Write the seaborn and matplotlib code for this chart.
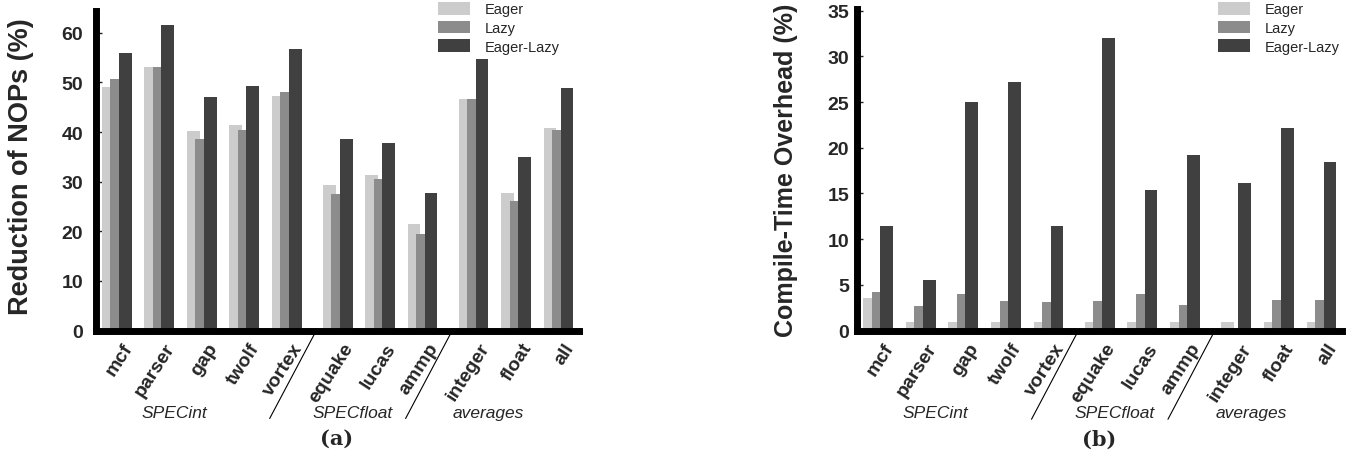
import numpy as np
import pandas as pd
import seaborn as sns
import matplotlib.pyplot as plt
import matplotlib.transforms as mtransforms
from matplotlib.patches import Patch

benchmarks = ["mcf", "parser", "gap", "twolf", "vortex",
              "equake", "lucas", "ammp", "integer", "float", "all"]
suites = ["SPECint", "SPECfloat", "averages"]
suite_sizes = [5, 3, 3]
methods = ["Eager", "Lazy", "Eager-Lazy"]

# (a) reduction of NOPs (%)
nops_eager = [49.0, 53.2, 40.2, 41.4, 47.2, 29.4, 31.4, 21.5, 46.6, 27.7, 40.8]
nops_lazy = [50.7, 53.2, 38.6, 40.5, 48.0, 27.5, 30.5, 19.5, 46.7, 26.1, 40.5]
nops_eagerlazy = [55.9, 61.6, 47.0, 49.2, 56.8, 38.7, 37.7, 27.8, 54.7, 35.0, 48.9]

# (b) compile-time overhead (%)
ovh_eager = [3.6, 1.0, 1.0, 1.0, 1.0, 1.0, 1.0, 1.0, 1.0, 1.0, 1.0]
ovh_lazy = [4.2, 2.7, 4.0, 3.2, 3.1, 3.3, 4.0, 2.8, 0.0, 3.35, 3.4]
ovh_eagerlazy = [11.5, 5.5, 25.0, 27.2, 11.4, 32.0, 15.4, 19.2, 16.1, 22.2, 18.4]

colors = ["#cccccc", "#8c8c8c", "#404040"]

# x positions: suites separated by a small extra gap
GAP = 0.2
positions = []
x = 0.0
for k, n in enumerate(suite_sizes):
    for i in range(n):
        positions.append(x)
        x += 1
    x += GAP
positions = np.array(positions)
LABEL_SHIFT = 0.33  # slanted labels sit right of the group centre


def long_frame(e, l, el):
    rows = []
    for vals, m in zip([e, l, el], methods):
        for b, p, v in zip(benchmarks, positions, vals):
            rows.append({"bench": b, "pos": p, "method": m, "value": v})
    return pd.DataFrame(rows)


sns.set_style("ticks")
plt.rcParams["font.family"] = ["Liberation Sans", "DejaVu Sans"]

fig = plt.figure(figsize=(13.54, 4.56), dpi=100)
W, H = 1354, 456
ax_a = fig.add_axes([95.5 / W, 1 - 331.5 / H, (578.5 - 95.5) / W, 320 / H])
ax_b = fig.add_axes([856.7 / W, 1 - 331.7 / H, (1341.5 - 856.7) / W, 322 / H])

panels = [
    (ax_a, long_frame(nops_eager, nops_lazy, nops_eagerlazy), 64.5, 10,
     "Reduction of NOPs (%)", 19.5, 9, -0.128, 0.515, "(a)", 438),
    (ax_b, long_frame(ovh_eager, ovh_lazy, ovh_eagerlazy), 35.2, 5,
     "Compile-Time Overhead (%)", 18, 5.5, -0.122, 0.5, "(b)", 1218),
]

for ax, df, ymax, ystep, ylab, ylab_size, ypad, ylab_x, ylab_y, tag, leg_x in panels:
    sns.barplot(data=df, x="pos", y="value", hue="method", hue_order=methods,
                palette=colors, native_scale=True, width=0.6, dodge=True,
                saturation=1, errorbar=None, legend=False, ax=ax)
    # overlapping bars, Excel style: each bar wider than its slot
    for cont in ax.containers:
        for bar in cont:
            bar.set_width(0.3)
            bar.set_linewidth(0)

    ax.set_xlim(-0.45, 10.92)
    ax.set_ylim(0, ymax)
    ax.set_yticks(np.arange(0, ymax + 0.01, ystep))
    ax.set_xticks(positions + LABEL_SHIFT)
    ax.set_xticklabels(benchmarks, rotation=57, ha="right", va="center",
                       rotation_mode="anchor", fontweight="bold", fontsize=14)
    ax.tick_params(axis="x", length=0, pad=10)
    ax.tick_params(axis="y", direction="in", length=4, width=1, pad=ypad,
                   labelsize=14)
    for lbl in ax.get_yticklabels():
        lbl.set_fontweight("bold")
    ax.set_xlabel("")
    ax.set_ylabel(ylab, fontsize=ylab_size, fontweight="bold")
    ax.yaxis.set_label_coords(ylab_x, ylab_y)

    sns.despine(ax=ax)
    for side in ["left", "bottom"]:
        ax.spines[side].set_linewidth(5)
        ax.spines[side].set_color("black")
        ax.spines[side].set_capstyle("projecting")
        ax.spines[side].set_zorder(5)

    # suite labels and slanted separators under the tick labels
    trans = mtransforms.blended_transform_factory(ax.transData, ax.transAxes)
    start = 0
    for k, (name, n) in enumerate(zip(suites, suite_sizes)):
        grp = positions[start:start + n]
        ax.text(grp.mean() - 0.6, -0.255, name, transform=trans, ha="center",
                va="center", fontsize=12.5, fontstyle="italic")
        if k > 0:
            mid = (positions[start - 1] + positions[start]) / 2
            ax.plot([mid + 0.1, mid - 0.95], [-0.012, -0.275], transform=trans,
                    color="black", lw=0.8, clip_on=False)
        start += n

    ax.text(0.5, -0.335, tag, transform=ax.transAxes, ha="center", va="center",
            fontsize=15, fontweight="bold", family=["DejaVu Serif"])

    handles = [Patch(facecolor=c, edgecolor="none") for c in colors]
    ax.legend(handles, methods, loc="upper left", frameon=False,
              bbox_to_anchor=(leg_x / W, 1 - 3 / H), bbox_transform=fig.transFigure,
              fontsize=10.5, handlelength=2.2, handleheight=0.95,
              handletextpad=1.0, labelspacing=0.3, borderpad=0,
              borderaxespad=0)

fig.savefig("out.png", dpi=100)
